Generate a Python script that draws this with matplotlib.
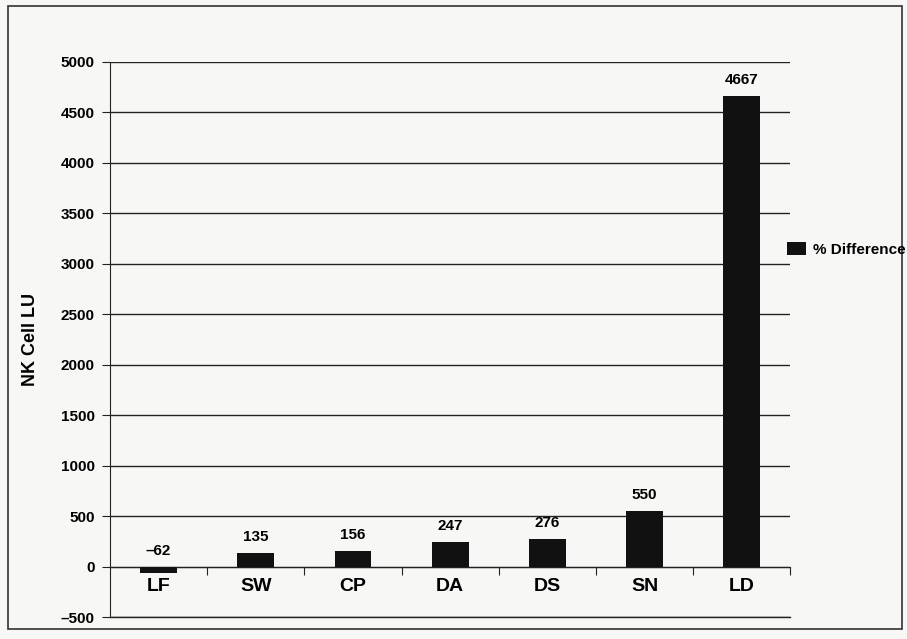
import numpy as np
import matplotlib.pyplot as plt
from matplotlib.patches import Rectangle

categorias = ['LF', 'SW', 'CP', 'DA', 'DS', 'SN', 'LD']
valores = [-62, 135, 156, 247, 276, 550, 4667]
rotulos = ['\u201362', '135', '156', '247', '276', '550', '4667']
ticks_y = [-500, 0, 500, 1000, 1500, 2000, 2500, 3000, 3500, 4000, 4500, 5000]

plt.rcParams['font.family'] = ['Liberation Sans', 'DejaVu Sans']

fig = plt.figure(figsize=(9.07, 6.39), dpi=100)
fig.patch.set_facecolor('#f7f7f5')
ax = fig.add_axes([0.1213, 0.034, 0.75, 0.869])
ax.set_facecolor('#f7f7f5')

x = np.arange(len(categorias))
barras = ax.bar(x, valores, width=0.38, color='#111111', label='% Difference', zorder=3)

for xi, v, r in zip(x, valores, rotulos):
    y_txt = v + 90 if v > 0 else 90
    ax.text(xi, y_txt, r, ha='center', va='bottom', fontsize=11, fontweight='bold')

ax.set_xlim(-0.5, len(categorias) - 0.5)
ax.set_ylim(-500, 5000)
ax.set_yticks(ticks_y)
ax.set_yticklabels([str(t).replace('-', '\u2013') for t in ticks_y], fontsize=11, fontweight='bold')
ax.yaxis.grid(True, color='#222222', linewidth=1.0, zorder=0)
ax.axhline(-500, color='#222222', linewidth=1.0, clip_on=False)
ax.tick_params(axis='y', length=6, color='#222222', pad=5)

ax.spines['top'].set_visible(False)
ax.spines['right'].set_visible(False)
ax.spines['bottom'].set_position(('data', 0))
ax.spines['bottom'].set_color('#222222')
ax.spines['left'].set_color('#222222')

ax.set_xticks(np.arange(len(categorias)) + 0.5)
ax.set_xticklabels([])
ax.tick_params(axis='x', direction='out', length=6, color='#222222')
for xi, c in zip(x, categorias):
    ax.text(xi, -110, c, ha='center', va='top', fontsize=14, fontweight='bold')

ax.set_ylabel('NK Cell LU', fontsize=13, fontweight='bold', labelpad=16)

fig.legend(handles=[barras], labels=['% Difference'], loc='center left',
           bbox_to_anchor=(0.853, 0.61), frameon=False,
           prop={'weight': 'bold', 'size': 11}, handlelength=1.2, handleheight=1.0,
           handletextpad=0.5)

fig.add_artist(Rectangle((0.009, 0.015), 0.985, 0.975, transform=fig.transFigure,
                         fill=False, edgecolor='#333333', linewidth=1.2))

plt.savefig('out.png', dpi=100)
